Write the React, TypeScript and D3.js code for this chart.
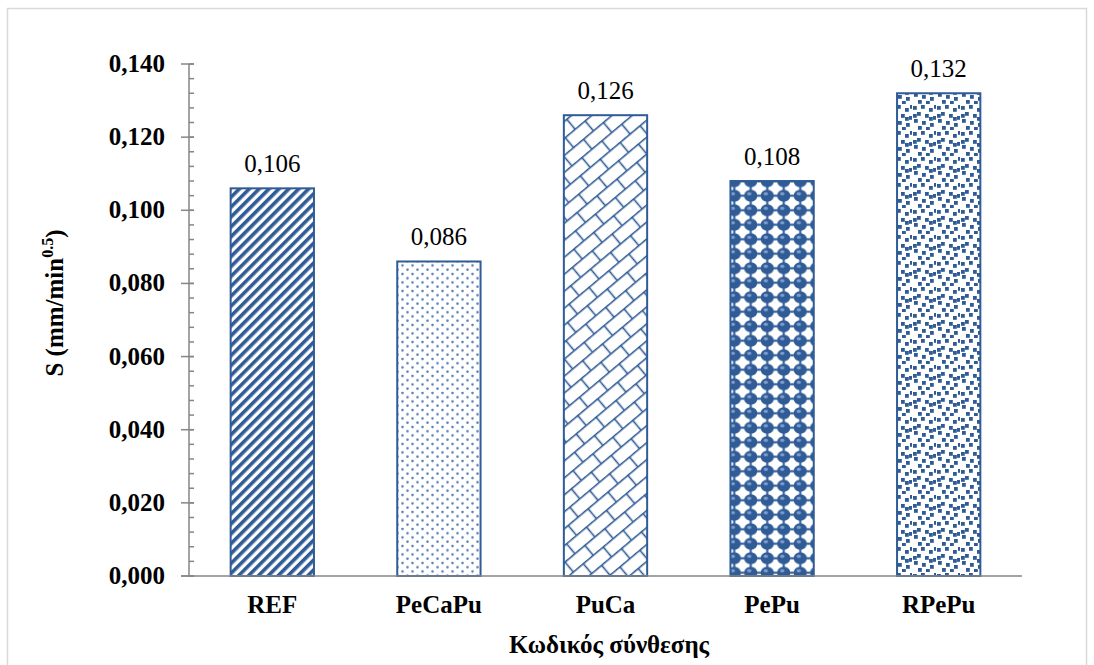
import React from "react";
import * as d3 from "d3";

const categories = ["REF", "PeCaPu", "PuCa", "PePu", "RPePu"];
const values = [0.106, 0.086, 0.126, 0.108, 0.132];
const patternIds = ["pStripe", "pDots", "pBrick", "pSphere", "pConfetti"];
const yTicks = [0, 0.02, 0.04, 0.06, 0.08, 0.1, 0.12, 0.14];
const yLabel = "S (mm/min";
const yLabelSup = "0.5";
const xLabel = "Κωδικός σύνθεσης";

const W = 1094, H = 665;
const m = { left: 189, right: 1022, top: 64, bottom: 576 };
const BLUE = "#2f5b96";
const FONT = "'Liberation Serif', 'Times New Roman', serif";
const FS = 25;

const confetti = [
  [1, 2], [9, 1], [17, 4], [5, 8], [13, 10], [21, 12], [2, 15], [10, 17], [18, 19], [6, 22], [14, 23], [22, 1], [1, 10], [17, 13]
];

export default function App() {
  const x = d3.scaleBand().domain(categories).range([m.left, m.right]).paddingInner(0.5).paddingOuter(0.25);
  const y = d3.scaleLinear().domain([0, 0.14]).range([m.bottom, m.top]);
  const fmt = (v: number) => d3.format(".3f")(v).replace(".", ",");
  const minor = d3.range(0, 0.1401, 0.004);

  return (
    <svg width={W} height={H} style={{ position: "absolute", left: 0, top: 0 }} fontFamily={FONT}>
      <defs>
        <pattern id="pStripe" width="7" height="7" patternUnits="userSpaceOnUse" patternTransform="rotate(45)">
          <rect width="7" height="7" fill="#fff" />
          <rect width="3.6" height="7" fill={BLUE} />
        </pattern>
        <pattern id="pDots" width="10" height="8.5" patternUnits="userSpaceOnUse">
          <rect width="10" height="8.5" fill="#fff" />
          <circle cx="2.5" cy="2" r="1.3" fill="#5a80b5" />
          <circle cx="7.5" cy="6.25" r="1.3" fill="#5a80b5" />
        </pattern>
        <pattern id="pBrick" width="26" height="26" patternUnits="userSpaceOnUse" patternTransform="rotate(-40)">
          <rect width="26" height="26" fill="#fff" />
          <line x1="0" y1="0.75" x2="26" y2="0.75" stroke={BLUE} strokeWidth="1.6" />
          <line x1="0" y1="13.75" x2="26" y2="13.75" stroke={BLUE} strokeWidth="1.6" />
          <line x1="6.5" y1="0" x2="6.5" y2="13" stroke={BLUE} strokeWidth="1.6" />
          <line x1="19.5" y1="13" x2="19.5" y2="26" stroke={BLUE} strokeWidth="1.6" />
        </pattern>
        <pattern id="pSphere" width="16.5" height="14.5" patternUnits="userSpaceOnUse">
          <rect width="16.5" height="14.5" fill="#fff" />
          <rect x="0" y="6.2" width="16.5" height="2.1" fill={BLUE} />
          <rect x="7.2" y="0" width="2.1" height="14.5" fill={BLUE} />
          <ellipse cx="8.25" cy="7.25" rx="6.6" ry="6" fill={BLUE} />
          <ellipse cx="6.8" cy="5.3" rx="2.2" ry="1.6" fill="#7f9ccb" />
        </pattern>
        <pattern id="pConfetti" width="24" height="26" patternUnits="userSpaceOnUse">
          <rect width="24" height="26" fill="#fff" />
          {confetti.map(([cx, cy], i) => (
            <rect key={i} x={cx} y={cy} width="3.8" height="3.8" fill={BLUE} />
          ))}
        </pattern>
      </defs>
      <rect x={0} y={0} width={W} height={H} fill="#fff" />
      <rect x={7.5} y={8.5} width={1079} height={700} fill="none" stroke="#d9d9d9" strokeWidth={1.5} />

      {categories.map((c, i) => (
        <g key={c}>
          <rect
            x={x(c)!}
            y={y(values[i])}
            width={x.bandwidth()}
            height={y(0) - y(values[i])}
            fill={`url(#${patternIds[i]})`}
            stroke={BLUE}
            strokeWidth={2}
          />
          <text x={x(c)! + x.bandwidth() / 2} y={y(values[i]) - 16} textAnchor="middle" fontSize={FS} fill="#000">
            {fmt(values[i])}
          </text>
          <text x={x(c)! + x.bandwidth() / 2} y={613} textAnchor="middle" fontSize={FS} fontWeight="bold" fill="#000">
            {c}
          </text>
        </g>
      ))}

      {/* axes */}
      <line x1={m.left} x2={m.left} y1={m.top} y2={m.bottom} stroke="#868686" strokeWidth={1.5} />
      <line x1={m.left - 8} x2={m.right} y1={m.bottom} y2={m.bottom} stroke="#868686" strokeWidth={1.5} />
      {minor.map((t, i) => (
        <line key={"mi" + i} x1={m.left} x2={m.left + 5} y1={y(t)} y2={y(t)} stroke="#868686" strokeWidth={1.5} />
      ))}
      {yTicks.map((t) => (
        <g key={t}>
          <line x1={m.left - 8} x2={m.left + 5} y1={y(t)} y2={y(t)} stroke="#868686" strokeWidth={1.5} />
          <text x={165} y={y(t) + 8} textAnchor="end" fontSize={FS} fontWeight="bold" fill="#000">
            {fmt(t)}
          </text>
        </g>
      ))}

      <text x={609} y={653} textAnchor="middle" fontSize={FS} fontWeight="bold" fill="#000">
        {xLabel}
      </text>
      <text transform={`translate(63, 303) rotate(-90)`} textAnchor="middle" fontSize={FS} fontWeight="bold" fill="#000">
        {yLabel}
        <tspan fontSize={16} dy={-10}>{yLabelSup}</tspan>
        <tspan dy={10}>)</tspan>
      </text>
    </svg>
  );
}
